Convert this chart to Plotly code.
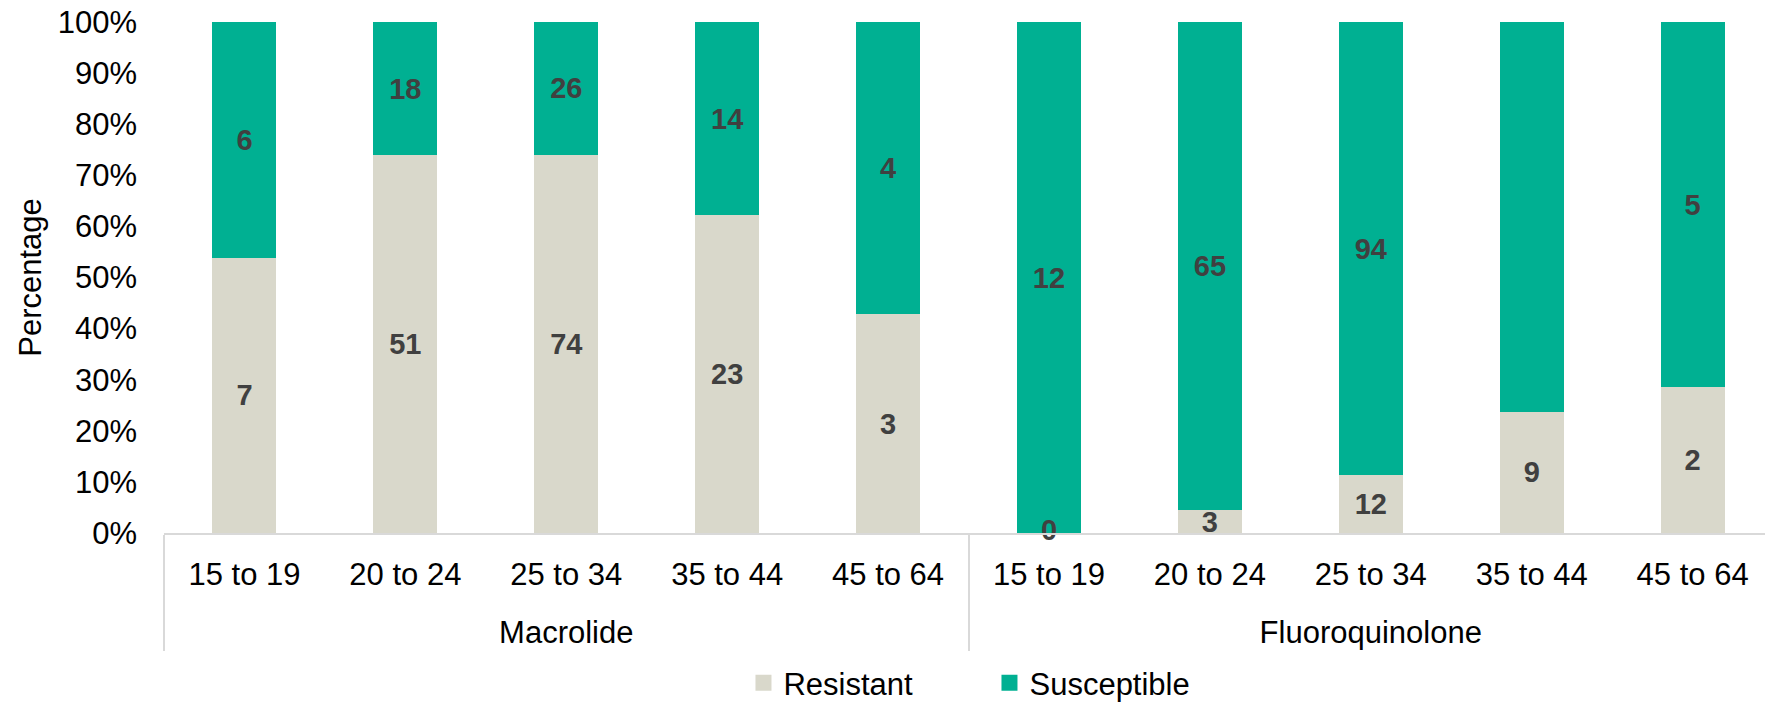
import plotly.graph_objects as go

# ---- data ----
drug_classes = ["Macrolide"] * 5 + ["Fluoroquinolone"] * 5
age_groups = ["15 to 19", "20 to 24", "25 to 34", "35 to 44", "45 to 64",
              "15 to 19", "20 to 24", "25 to 34", "35 to 44", "45 to 64"]
resistant = [7, 51, 74, 23, 3, 0, 3, 12, 9, 2]
susceptible = [6, 18, 26, 14, 4, 12, 65, 94, 29, 5]
y_ticks = [0, 10, 20, 30, 40, 50, 60, 70, 80, 90, 100]

# ---- styles ----
C_RES = "#D9D8CB"
C_SUS = "#00B092"
FONT = "Liberation Sans, Arial, sans-serif"
FS = 31
LBL = dict(family=FONT, size=29, color="#404040", weight="bold")
# tall blank spans pad the first label row so the group row sits lower
PAD = "<span style='font-size:62px'> </span>"

x = [drug_classes, [PAD + a + PAD for a in age_groups]]

fig = go.Figure()
fig.add_trace(go.Bar(
    x=x, y=resistant, name="Resistant", marker=dict(color=C_RES, line=dict(width=0)),
    text=[str(v) if v else "" for v in resistant], textposition="inside",
    insidetextanchor="middle", textangle=0, constraintext="none",
    textfont=LBL, showlegend=False, hoverinfo="skip",
))
fig.add_trace(go.Bar(
    x=x, y=susceptible, name="Susceptible", marker=dict(color=C_SUS, line=dict(width=0)),
    text=[str(v) if v else "" for v in susceptible], textposition="inside",
    insidetextanchor="middle", textangle=0, constraintext="none",
    textfont=LBL, showlegend=False, hoverinfo="skip",
))

# labels for zero-height segments (sit on the baseline)
zx = [[c for c, v in zip(x[0], resistant) if v == 0],
      [a for a, v in zip(x[1], resistant) if v == 0]]
fig.add_trace(go.Scatter(
    x=zx, y=[0] * len(zx[0]), mode="text",
    text=[str(v) for v in resistant if v == 0], textposition="middle center",
    textfont=LBL, cliponaxis=False, showlegend=False, hoverinfo="skip",
))

# legend entries
for nm, col in [("Resistant", C_RES), ("Susceptible", C_SUS)]:
    fig.add_trace(go.Scatter(
        x=[None], y=[None], mode="markers", name=nm,
        marker=dict(symbol="square", size=16, color=col),
    ))

fig.update_layout(
    width=1765, height=705,
    barmode="stack", barnorm="percent", bargap=0.602,
    plot_bgcolor="white", paper_bgcolor="white",
    margin=dict(l=164, r=0, t=22, b=172),
    font=dict(family=FONT, size=FS, color="#000000"),
    legend=dict(orientation="h", xref="paper", x=0.5156, xanchor="center",
                yref="container", y=0.031, yanchor="middle",
                font=dict(size=FS), entrywidth=201, traceorder="normal"),
    xaxis=dict(
        type="multicategory", range=[-0.5, 9.45], automargin=False,
        showline=True, linecolor="#D9D9D9", linewidth=1.5,
        showdividers=True, dividercolor="#D9D9D9", dividerwidth=1.5,
        showgrid=False, ticks="", tickfont=dict(size=FS, color="#000000"),
        ticklabelstandoff=13,
    ),
    yaxis=dict(
        range=[0, 100], tickmode="array", tickvals=y_ticks,
        ticktext=[f"{v}%" for v in y_ticks], automargin=False,
        showgrid=False, zeroline=False, showline=False, ticks="",
        tickfont=dict(size=FS, color="#000000"), ticklabelstandoff=26,
        title=dict(text="Percentage", font=dict(size=FS, color="#000000"), standoff=6),
    ),
)

fig.write_html("out.html")
